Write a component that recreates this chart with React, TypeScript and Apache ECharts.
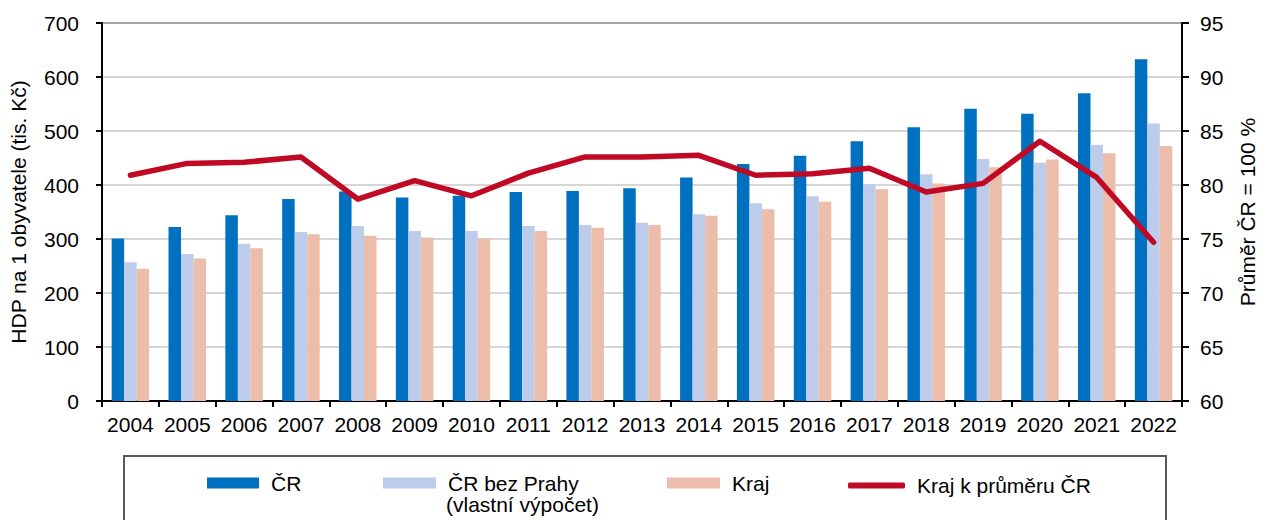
import React, { useEffect, useRef } from "react";
import * as echarts from "echarts";

const years = ["2004","2005","2006","2007","2008","2009","2010","2011","2012","2013","2014","2015","2016","2017","2018","2019","2020","2021","2022"];
const crValues = [301, 322, 344, 374, 388, 377, 380, 387, 389, 394, 414, 439, 454, 481, 507, 541, 532, 570, 633];
const crBezPrahyValues = [257, 272, 291, 313, 324, 315, 315, 324, 326, 330, 346, 366, 379, 401, 420, 448, 441, 474, 514];
const krajValues = [245, 264, 283, 309, 306, 303, 301, 315, 321, 326, 343, 355, 369, 392, 403, 433, 447, 459, 472];
const krajPrumerValues = [80.9, 82.0, 82.1, 82.6, 78.7, 80.4, 79.0, 81.1, 82.6, 82.6, 82.75, 80.9, 81.05, 81.55, 79.35, 80.15, 84.05, 80.7, 74.7];

const FONT = "Liberation Sans";
const FS = 21;

export default function App() {
  const ref = useRef<HTMLDivElement>(null);
  useEffect(() => {
    if (!ref.current) return;
    const chart = echarts.init(ref.current, null, { renderer: "svg" });
    const legendText = { fontFamily: FONT, fontSize: FS, color: "#000", padding: [0, 0, 0, 7] };
    const mkLegend = (name: string, left: number, w: number, h: number, icon: string) => ({
      show: true,
      data: [name],
      left,
      top: 478 - h / 2,
      padding: 0,
      itemWidth: w,
      itemHeight: h,
      icon,
      selectedMode: false,
      textStyle: legendText,
    });
    chart.setOption({
      animation: false,
      backgroundColor: "#fff",
      textStyle: { fontFamily: FONT },
      grid: {
        left: 101,
        right: 80,
        top: 23,
        bottom: 119,
        show: true,
        borderColor: "#000",
        borderWidth: 1.5,
        containLabel: false,
      },
      legend: [
        mkLegend("ČR", 207, 52, 11, "rect"),
        mkLegend("ČR bez Prahy", 383, 53, 11, "rect"),
        mkLegend("Kraj", 667, 53, 11, "rect"),
        mkLegend("Kraj k průměru ČR", 848, 57, 6, "roundRect"),
      ],
      xAxis: {
        type: "category",
        data: years,
        boundaryGap: true,
        axisLine: { show: true, lineStyle: { color: "#000", width: 2 } },
        axisTick: { show: true, length: 6, interval: 0, lineStyle: { color: "#000", width: 2 } },
        axisLabel: { fontFamily: FONT, fontSize: FS, color: "#000", margin: 13, interval: 0 },
        splitLine: { show: false },
      },
      yAxis: [
        {
          type: "value",
          min: 0,
          max: 700,
          interval: 100,
          name: "HDP na 1 obyvatele (tis. Kč)",
          nameLocation: "middle",
          nameGap: 73,
          nameTextStyle: { fontFamily: FONT, fontSize: FS, color: "#000" },
          axisLine: { show: true, lineStyle: { color: "#000", width: 2 } },
          axisTick: { show: true, length: 6, lineStyle: { color: "#000", width: 2 } },
          axisLabel: { fontFamily: FONT, fontSize: FS, color: "#000", margin: 23 },
          splitLine: { show: true, lineStyle: { color: "#c8c8c8", width: 1.5 } },
        },
        {
          type: "value",
          min: 60,
          max: 95,
          interval: 5,
          position: "right",
          name: "Průměr ČR = 100 %",
          nameLocation: "middle",
          nameGap: 55,
          nameTextStyle: { fontFamily: FONT, fontSize: FS, color: "#000" },
          axisLine: { show: true, lineStyle: { color: "#000", width: 2 } },
          axisTick: { show: true, length: 7, lineStyle: { color: "#000", width: 2 } },
          axisLabel: { fontFamily: FONT, fontSize: FS, color: "#000", margin: 18 },
          splitLine: { show: false },
        },
      ],
      series: [
        {
          name: "ČR",
          type: "bar",
          data: crValues,
          barGap: "0%",
          barCategoryGap: "34%",
          itemStyle: { color: "#0070C0" },
        },
        {
          name: "ČR bez Prahy",
          type: "bar",
          data: crBezPrahyValues,
          barGap: "0%",
          barCategoryGap: "34%",
          itemStyle: { color: "#BCCCEA" },
        },
        {
          name: "Kraj",
          type: "bar",
          data: krajValues,
          barGap: "0%",
          barCategoryGap: "34%",
          itemStyle: { color: "#ECBDAA" },
        },
        {
          name: "Kraj k průměru ČR",
          type: "line",
          yAxisIndex: 1,
          data: krajPrumerValues,
          showSymbol: false,
          symbol: "none",
          itemStyle: { color: "#C00A25" },
          lineStyle: { color: "#C00A25", width: 5.5, cap: "round", join: "round" },
          z: 5,
        },
      ],
      graphic: [
        {
          type: "rect",
          shape: { x: 124, y: 456, width: 1042, height: 100 },
          style: { fill: "none", stroke: "#5a5a5a", lineWidth: 2 },
          silent: true,
        },
        {
          type: "text",
          x: 446,
          y: 504,
          style: {
            text: "(vlastní výpočet)",
            font: `${FS}px "${FONT}"`,
            fill: "#000",
            verticalAlign: "middle",
            align: "left",
          },
        },
      ],
    });
    return () => chart.dispose();
  }, []);
  return (
    <div
      ref={ref}
      style={{ position: "fixed", left: 0, top: 0, width: 1266, height: 520, background: "#fff" }}
    />
  );
}
